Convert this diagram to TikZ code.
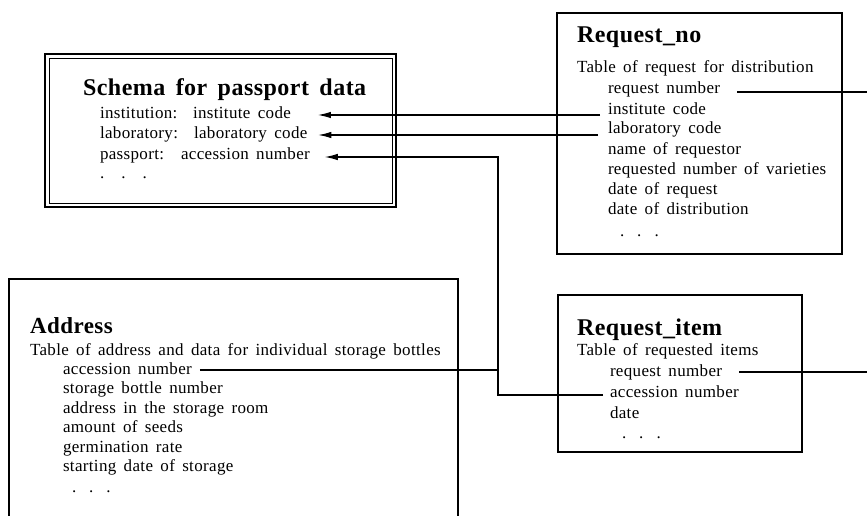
\documentclass[tikz,border=0pt]{standalone}
\usepackage{fontspec}
\setmainfont{Liberation Serif}[LetterSpace=2,WordSpace=1.6]
\usetikzlibrary{arrows.meta}
\newcommand\bodyfont{\fontsize{17}{20}\selectfont}
\newcommand\titlefont{\bfseries\fontsize{24}{28}\selectfont}
\begin{document}
\begin{tikzpicture}[x=1pt,y=-1pt,
  frame/.style={draw, line width=1.4pt, inner sep=0pt, outer sep=0pt, anchor=north west},
  txt/.style={anchor=base west, inner sep=0pt, outer sep=0pt, font=\bodyfont},
  ttl/.style={anchor=base west, inner sep=0pt, outer sep=0pt, font=\titlefont},
  link/.style={line width=1.1pt},
  tip/.style={-{Latex[length=13pt,width=6.5pt]}}]
\useasboundingbox (0,0) rectangle (867,516);

% ---- schema box (double frame) ----
\node[frame, line width=1.8pt, minimum width=351pt, minimum height=153pt] (sch) at (45,54) {};
\node[frame, line width=0.7pt, minimum width=343pt, minimum height=145pt] (schin) at (49,58) {};
\node[ttl] (schT) at (83,96) {Schema for passport data};
\node[txt] (schk1) at (100,119) {institution:};
\node[txt] (schv1) at (193,119) {institute code};
\node[txt] (schk2) at (100,139) {laboratory:};
\node[txt] (schv2) at (194,139) {laboratory code};
\node[txt] (schk3) at (100,160) {passport:};
\node[txt] (schv3) at (181,160) {accession number};
\node[txt] (schdots) at (100,178) {.\hspace{17pt}.\hspace{17pt}.};

% ---- Request_no table ----
\node[frame, minimum width=285pt, minimum height=241pt] (rn) at (557,13) {};
\node[ttl] (rnT) at (577,43) {Request\_no};
\node[txt] (rnD) at (577,73) {Table of request for distribution};
\node[txt] (rnreq) at (608,94) {request number};
\node[txt] (rninst) at (608,114) {institute code};
\node[txt] (rnlab) at (608,134) {laboratory code};
\node[txt] (rnname) at (608,154) {name of requestor};
\node[txt] (rnvar) at (608,174) {requested number of varieties};
\node[txt] (rndreq) at (608,194) {date of request};
\node[txt] (rnddis) at (608,214) {date of distribution};
\node[txt] (rndots) at (620,236) {.\hspace{13pt}.\hspace{13pt}.};

% ---- Request_item table ----
\node[frame, minimum width=244pt, minimum height=157pt] (ri) at (558,295) {};
\node[ttl] (riT) at (577,335) {Request\_item};
\node[txt] (riD) at (577,355) {Table of requested items};
\node[txt] (rireq) at (610,376) {request number};
\node[txt] (riacc) at (610,397) {accession number};
\node[txt] (ridate) at (610,418) {date};
\node[txt] (ridots) at (622,438) {.\hspace{13pt}.\hspace{13pt}.};

% ---- Address table (runs off the lower edge) ----
\node[frame, minimum width=449pt, minimum height=260pt] (ad) at (9,279) {};
\node[ttl, font=\bfseries\fontsize{23}{27}\selectfont] (adT) at (30,333) {Address};
\node[txt] (adD) at (30,355) {Table of address and data for individual storage bottles};
\node[txt] (adacc) at (63,374) {accession number};
\node[txt] (adbot) at (63,393.5) {storage bottle number};
\node[txt] (adroom) at (63,413) {address in the storage room};
\node[txt] (adseed) at (63,432.5) {amount of seeds};
\node[txt] (adgerm) at (63,452) {germination rate};
\node[txt] (adstart) at (63,471.5) {starting date of storage};
\node[txt] (addots) at (72,492) {.\hspace{13pt}.\hspace{13pt}.};

% ---- connectors ----
\coordinate (trunk) at (498,300);
\coordinate (edgeR) at (867,0);

\coordinate (rnreqR) at ([xshift=17pt,yshift=2pt]rnreq.base east);
\draw[link] (rnreqR) -- (rnreqR -| edgeR);
\coordinate (rireqR) at ([xshift=17pt,yshift=4pt]rireq.base east);
\draw[link] (rireqR) -- (rireqR -| edgeR);

\coordinate (instR) at ([xshift=-8pt,yshift=-1pt]rninst.base west);
\coordinate (instL) at ([xshift=27pt,yshift=3pt]schv1.base east);
\draw[link,tip] (instR) -- (instR -| instL);

\coordinate (labR) at ([xshift=-10pt,yshift=-1pt]rnlab.base west);
\coordinate (labL) at ([xshift=11pt,yshift=3pt]schv2.base east);
\draw[link,tip] (labR) -- (labR -| labL);

\coordinate (accR) at ([xshift=-7pt,yshift=2pt]riacc.base west);
\coordinate (accL) at ([xshift=15pt,yshift=3pt]schv3.base east);
\draw[link,tip] (accR) -- (accR -| trunk) -- (trunk |- accL) -- (accL);

\coordinate (adaccR) at ([xshift=8pt,yshift=4pt]adacc.base east);
\draw[link] (adaccR) -- (adaccR -| trunk);
\end{tikzpicture}
\end{document}
